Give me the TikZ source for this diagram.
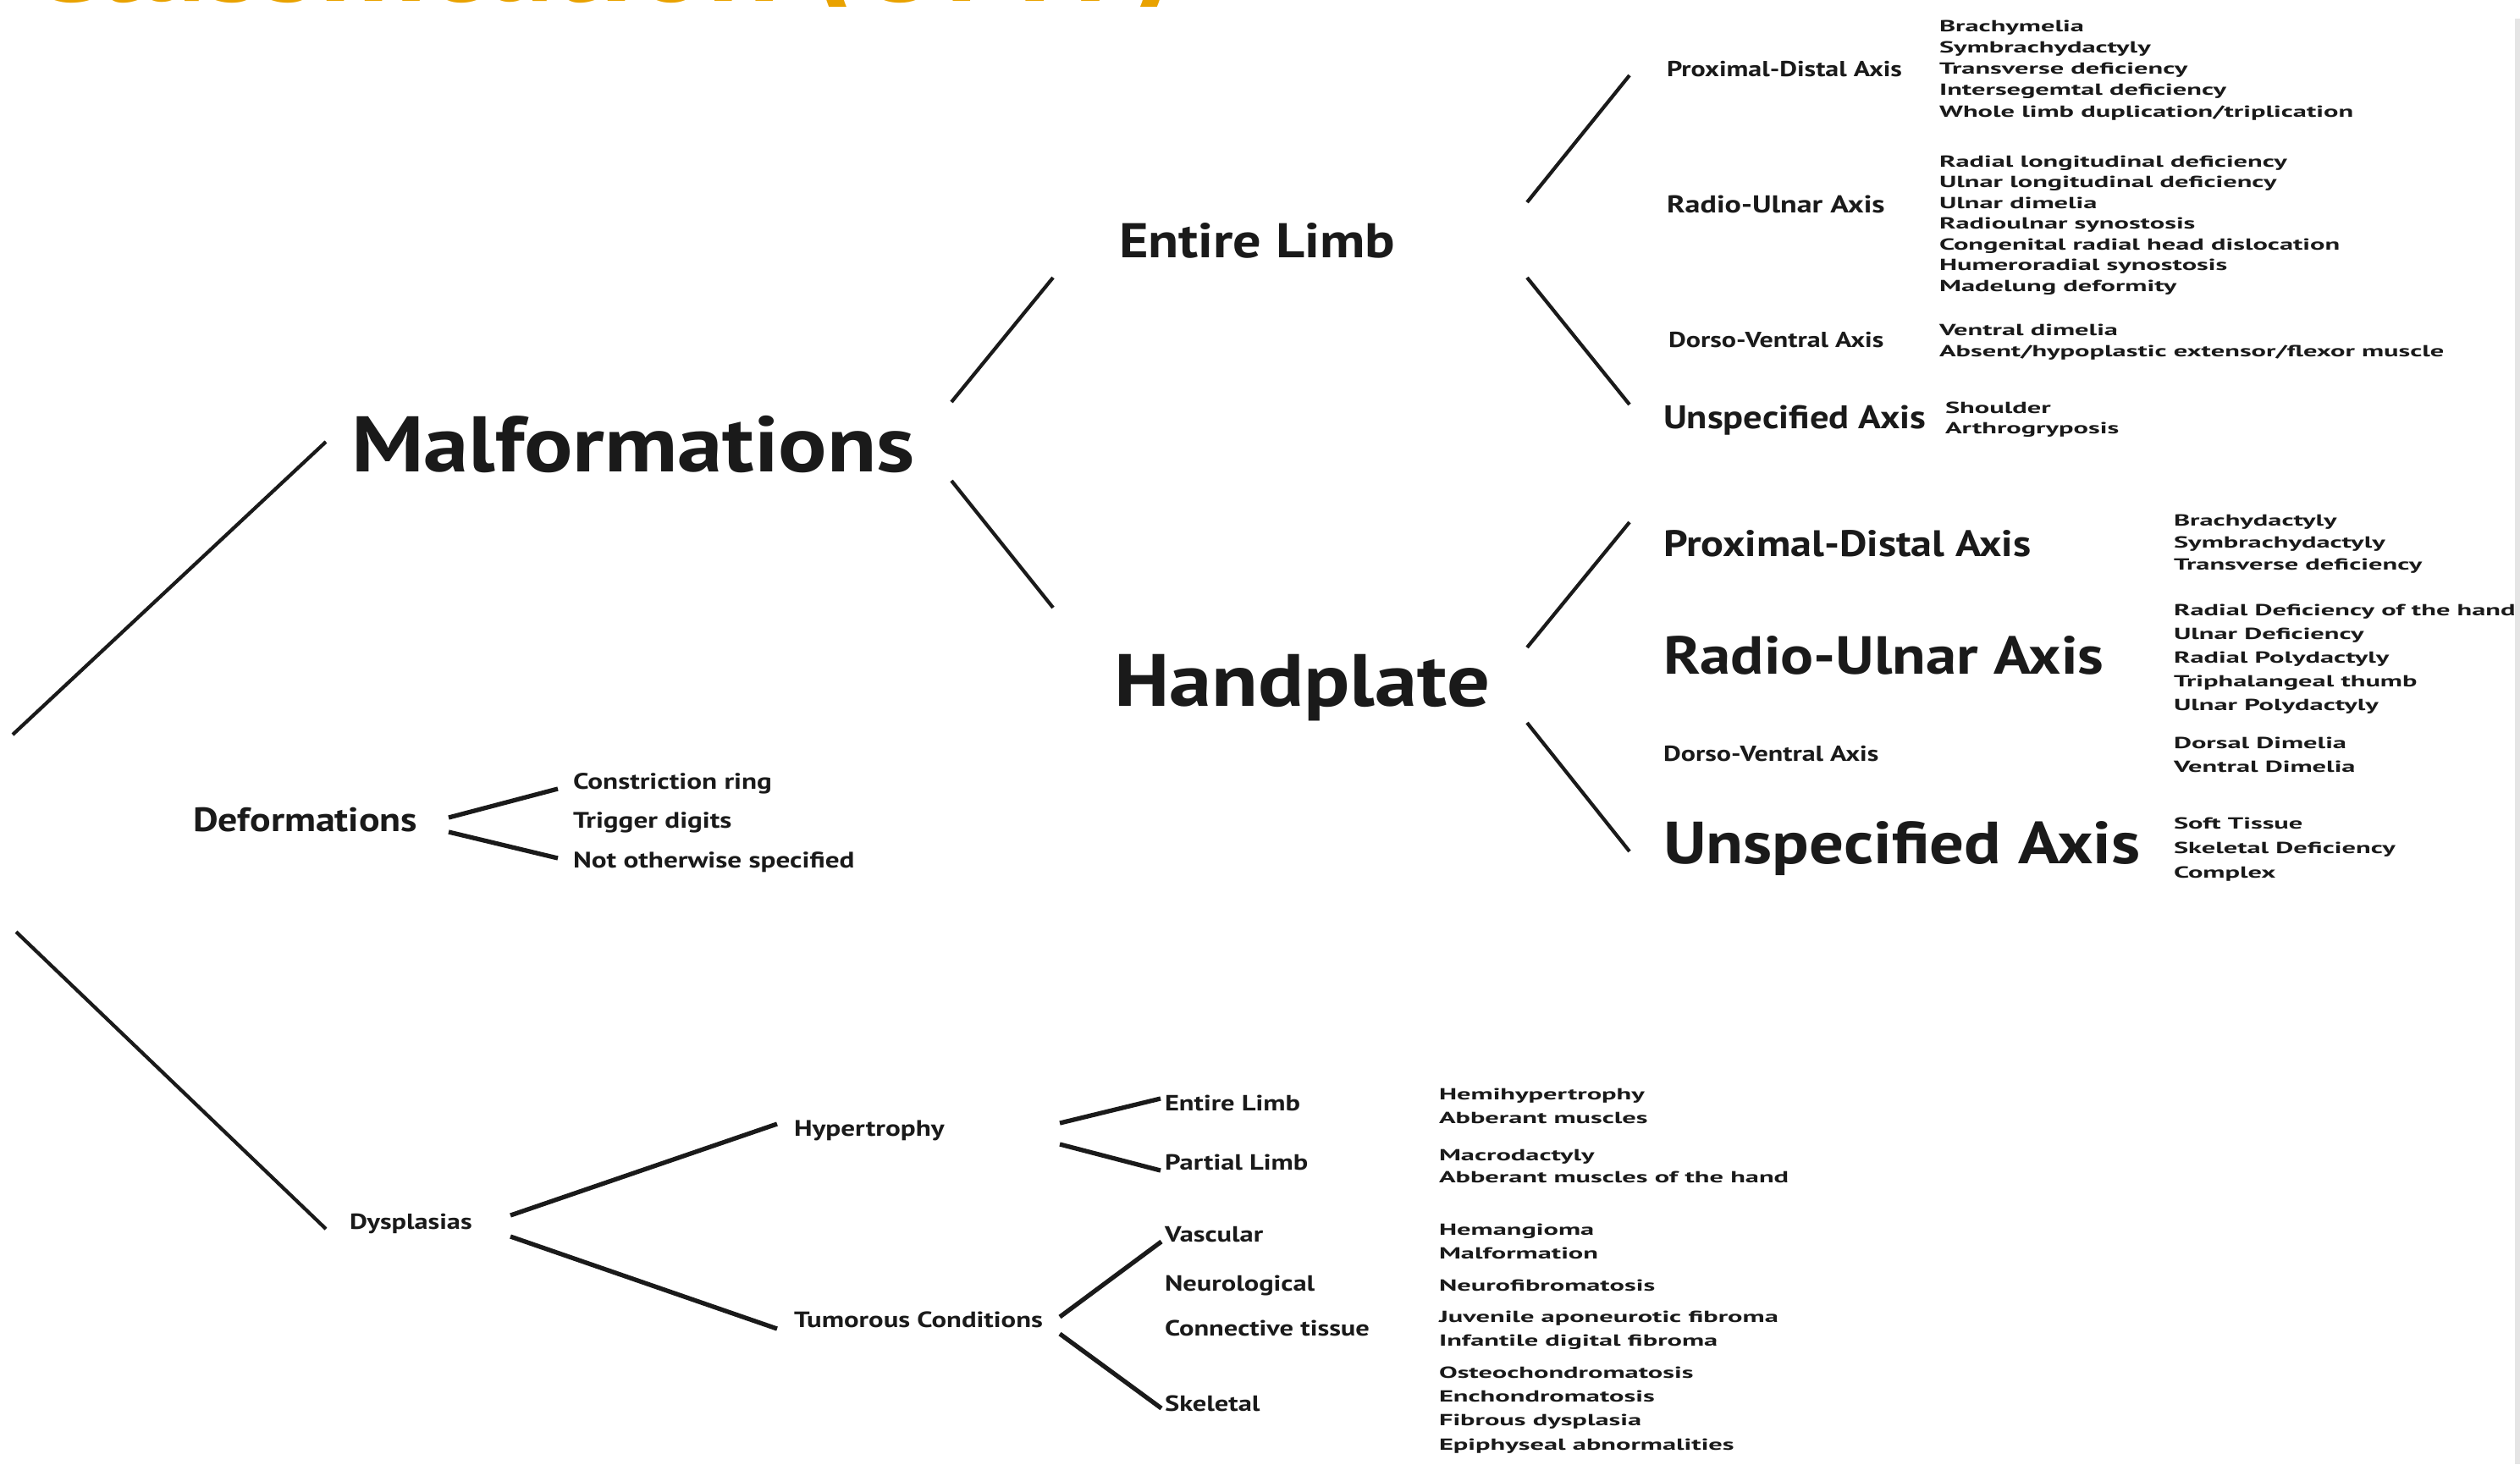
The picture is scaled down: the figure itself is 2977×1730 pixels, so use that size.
\documentclass[tikz,border=0pt]{standalone}
\usepackage{fontspec}
\setmainfont{PT Sans}
\newfontfamily\etiquette{PT Sans}[FakeStretch=1.15]
\newfontfamily\etiquettelarge{PT Sans}[FakeStretch=1.25]
\newfontfamily\liste{PT Sans}[FakeStretch=1.71]
\newcommand\taille[1]{\fontsize{#1}{#1}\selectfont}
\definecolor{orangeOMT}{HTML}{E9A200}
\definecolor{encre}{HTML}{1A1A1A}
\begin{document}
\begin{tikzpicture}[x=0.1mm,y=-0.1mm]
	% Styles
	\tikzstyle{trait}=[-,line width=1.2pt,draw=encre]
	\tikzstyle{traitfin}=[-,line width=1.5pt,draw=encre]
	\tikzstyle{noeud}=[anchor=base west,inner sep=0pt,outer sep=0pt,text=encre,font=\etiquette\bfseries]
	\tikzstyle{petitnoeud}=[noeud,font=\etiquettelarge\bfseries]
	\tikzset{feuille/.style={anchor=base west,inner sep=0pt,outer sep=0pt,align=left,text=encre,font=\liste\bfseries\fontsize{5.4}{#1}\selectfont}}
	% Dimensions (base de la derniere ligne pour les feuilles)
	\def\ColFeuilleA{2291}
	\def\ColFeuilleB{2568}
	\def\ColFeuilleC{1700}
	% Cadre
	\useasboundingbox (0,0) rectangle (2977,1730);
	\fill[gray!20] (2971,22) rectangle (2977,1730);
	\begin{scope}
		\clip (0,0) rectangle (2977,7);
		\node[anchor=base west,inner sep=0pt,text=orangeOMT,font=\bfseries] (titre) at (28,1) {\taille{45}Classification (OMT)};
	\end{scope}
	% Racine
	\coordinate (R1) at (15,868);
	\coordinate (R2) at (19,1101);
	% Noeuds
	\node[noeud] (Malf) at (415,557) {\taille{26.5}Malformations};
	\node[noeud] (EL) at (1322,304) {\taille{16.4}Entire Limb};
	\node[noeud] (HP) at (1316,834) {\taille{24.9}Handplate};
	%
	\node[petitnoeud] (PDa) at (1969,90) {\taille{7.3}Proximal-Distal Axis};
	\node[petitnoeud] (RUa) at (1969,251) {\taille{8.2}Radio-Ulnar Axis};
	\node[petitnoeud] (DVa) at (1971,410) {\taille{7.3}Dorso-Ventral Axis};
	\node[noeud] (USa) at (1965,506) {\taille{11}Unspecified Axis};
	%
	\node[noeud] (PDb) at (1965,657) {\taille{12.4}Proximal-Distal Axis};
	\node[noeud] (RUb) at (1965,796) {\taille{18}Radio-Ulnar Axis};
	\node[petitnoeud] (DVb) at (1965,899) {\taille{7.3}Dorso-Ventral Axis};
	\node[noeud] (USb) at (1965,1020) {\taille{20}Unspecified Axis};
	%
	\node[noeud] (Def) at (228,982) {\taille{11.35}Deformations};
	\node[petitnoeud] (Cons) at (677,932) {\taille{7.55}Constriction ring};
	\node[petitnoeud] (Trig) at (677,978) {\taille{7.55}Trigger digits};
	\node[petitnoeud] (NOS) at (677,1025) {\taille{7.55}Not otherwise specified};
	%
	\node[petitnoeud] (Dysp) at (413,1452) {\taille{7.35}Dysplasias};
	\node[petitnoeud] (Hyp) at (938,1342) {\taille{7.55}Hypertrophy};
	\node[petitnoeud] (Tum) at (938,1568) {\taille{7.45}Tumorous Conditions};
	\node[petitnoeud] (ELc) at (1376,1312) {\taille{7.4}Entire Limb};
	\node[petitnoeud] (PL) at (1376,1382) {\taille{7.4}Partial Limb};
	\node[petitnoeud] (Vasc) at (1376,1467) {\taille{7.4}Vascular};
	\node[petitnoeud] (Neur) at (1376,1525) {\taille{7.4}Neurological};
	\node[petitnoeud] (Conn) at (1376,1578) {\taille{7.4}Connective tissue};
	\node[petitnoeud] (Skel) at (1376,1667) {\taille{7.4}Skeletal};
	% Feuilles
	\node[feuille=7.18pt] (fPDa) at (\ColFeuilleA,138) {Brachymelia\\Symbrachydactyly\\Transverse deficiency\\Intersegemtal deficiency\\Whole limb duplication/triplication};
	\node[feuille=6.97pt] (fRUa) at (\ColFeuilleA,344) {Radial longitudinal deficiency\\Ulnar longitudinal deficiency\\Ulnar dimelia\\Radioulnar synostosis\\Congenital radial head dislocation\\Humeroradial synostosis\\Madelung deformity};
	\node[feuille=7.1pt] (fDVa) at (\ColFeuilleA,421) {Ventral dimelia\\Absent/hypoplastic extensor/flexor muscle};
	\node[feuille=6.55pt] (fUSa) at (2298,512) {Shoulder\\Arthrogryposis};
	%
	\node[feuille=7.26pt] (fPDb) at (\ColFeuilleB,673) {Brachydactyly\\Symbrachydactyly\\Transverse deficiency};
	\node[feuille=7.9pt] (fRUb) at (\ColFeuilleB,839) {Radial Deficiency of the hand\\Ulnar Deficiency\\Radial Polydactyly\\Triphalangeal thumb\\Ulnar Polydactyly};
	\node[feuille=7.7pt] (fDVb) at (\ColFeuilleB,912) {Dorsal Dimelia\\Ventral Dimelia};
	\node[feuille=8.25pt] (fUSb) at (\ColFeuilleB,1037) {Soft Tissue\\Skeletal Deficiency\\Complex};
	%
	\node[feuille=7.97pt] (fELc) at (\ColFeuilleC,1327) {Hemihypertrophy\\Abberant muscles};
	\node[feuille=7.4pt] (fPL) at (\ColFeuilleC,1397) {Macrodactyly\\Abberant muscles of the hand};
	\node[feuille=7.7pt] (fVasc) at (\ColFeuilleC,1487) {Hemangioma\\Malformation};
	\node[feuille=7.7pt] (fNeur) at (\ColFeuilleC,1525) {Neurofibromatosis};
	\node[feuille=7.7pt] (fConn) at (\ColFeuilleC,1590) {Juvenile aponeurotic fibroma\\Infantile digital fibroma};
	\node[feuille=8pt] (fSkel) at (\ColFeuilleC,1713) {Osteochondromatosis\\Enchondromatosis\\Fibrous dysplasia\\Epiphyseal abnormalities};
	% Arcs
	\draw[trait] (R1) -- ([shift={(-30,-35)}]Malf.base west);
	\draw[trait] (R2) -- ([shift={(-28,0)}]Dysp.base west);
	\draw[trait] ([shift={(709,-82)}]Malf.base west) -- ([shift={(-78,24)}]EL.base west);
	\draw[trait] ([shift={(709,11)}]Malf.base west) -- ([shift={(-72,-116)}]HP.base west);
	\draw[trait] ([shift={(482,-65)}]EL.base west) -- ([shift={(-44,-1)}]PDa.base west);
	\draw[trait] ([shift={(482,24)}]EL.base west) -- ([shift={(-40,-28)}]USa.base west);
	\draw[trait] ([shift={(488,-69)}]HP.base west) -- ([shift={(-40,-40)}]PDb.base west);
	\draw[trait] ([shift={(488,20)}]HP.base west) -- ([shift={(-40,-14)}]USb.base west);
	\draw[traitfin] ([shift={(302,-16)}]Def.base west) -- ([shift={(-18,0)}]Cons.base west);
	\draw[traitfin] ([shift={(302,1)}]Def.base west) -- ([shift={(-18,-11)}]NOS.base west);
	\draw[traitfin] ([shift={(190,-16)}]Dysp.base west) -- ([shift={(-20,-14)}]Hyp.base west);
	\draw[traitfin] ([shift={(190,9)}]Dysp.base west) -- ([shift={(-20,2)}]Tum.base west);
	\draw[traitfin] ([shift={(314,-15)}]Hyp.base west) -- ([shift={(-5,-14)}]ELc.base west);
	\draw[traitfin] ([shift={(314,10)}]Hyp.base west) -- ([shift={(-5,1)}]PL.base west);
	\draw[traitfin] ([shift={(314,-12)}]Tum.base west) -- ([shift={(-4,0)}]Vasc.base west);
	\draw[traitfin] ([shift={(314,8)}]Tum.base west) -- ([shift={(-4,-3)}]Skel.base west);
\end{tikzpicture}
\end{document}
